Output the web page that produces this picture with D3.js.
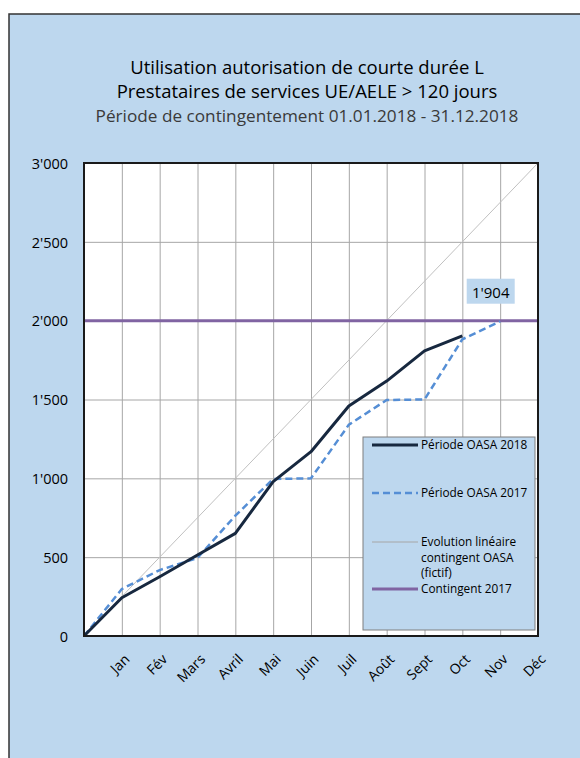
<!DOCTYPE html>
<html>
<head>
<meta charset="utf-8">
<script src="https://cdn.jsdelivr.net/npm/d3@7"></script>
<style>
  body { margin: 0; background: #fff; }
  svg { display: block; font-family: 'Open Sans', sans-serif; }
  .grid line { stroke: #a6a6a6; stroke-width: 1; }
  .grid path { display: none; }
</style>
</head>
<body>
<svg width="580" height="758"></svg>
<script>
// data
const months = ['Jan', 'Fév', 'Mars', 'Avril', 'Mai', 'Juin', 'Juil', 'Août', 'Sept', 'Oct', 'Nov', 'Déc'];
const period2018 = [0, 243, 376, 514, 651, 979, 1169, 1459, 1617, 1808, 1904];
const period2017 = [0, 298, 418, 495, 763, 996, 1000, 1340, 1497, 1500, 1882, 1995];
const linearEvolution = [0, 3000];
const linearIdx = [0, 12];
const contingent2017 = 2000;
const yTicks = [0, 500, 1000, 1500, 2000, 2500, 3000];
const lastLabel = "1'904";

const svg = d3.select('svg');

// panel background
svg.append('rect')
  .attr('x', 9).attr('y', 14)
  .attr('width', 600).attr('height', 760)
  .attr('fill', '#bdd7ee')
  .attr('stroke', '#333').attr('stroke-width', 1.5);

// titles
const titles = [
  { t: 'Utilisation autorisation de courte durée L', y: 74, size: 18.5, fill: '#000' },
  { t: 'Prestataires de services UE/AELE > 120 jours', y: 98, size: 18.5, fill: '#000' },
  { t: 'Période de contingentement 01.01.2018 - 31.12.2018', y: 122, size: 17.2, fill: '#3a3a3a' }
];
svg.selectAll('.title').data(titles).enter().append('text')
  .attr('class', 'title')
  .attr('x', 307).attr('y', d => d.y)
  .attr('text-anchor', 'middle')
  .attr('font-size', d => d.size)
  .attr('fill', d => d.fill)
  .text(d => d.t);

const pLeft = 84, pRight = 538, pTop = 163, pBottom = 636;

const xScale = d3.scaleLinear().domain([0, 12]).range([pLeft, pRight]);
const yScale = d3.scaleLinear().domain([0, 3000]).range([pBottom, pTop]);

// plot area
svg.append('rect')
  .attr('x', pLeft).attr('y', pTop)
  .attr('width', pRight - pLeft).attr('height', pBottom - pTop)
  .attr('fill', '#fff');

// gridlines
svg.append('g')
  .attr('class', 'grid')
  .attr('transform', `translate(${pLeft},0)`)
  .call(d3.axisLeft(yScale).tickValues(yTicks).tickSize(-(pRight - pLeft)).tickFormat(''));

svg.append('g')
  .attr('class', 'grid')
  .attr('transform', `translate(0,${pBottom})`)
  .call(d3.axisBottom(xScale).tickValues(d3.range(1, 13)).tickSize(-(pBottom - pTop)).tickFormat(''));

// y axis labels
const yAxis = svg.append('g')
  .attr('transform', `translate(${pLeft},0)`)
  .call(d3.axisLeft(yScale).tickValues(yTicks).tickSize(0).tickPadding(16)
    .tickFormat(d => d3.format(',')(d).replace(',', "'")));
yAxis.select('.domain').remove();
yAxis.attr('font-family', null).attr('font-size', 14.5);
yAxis.selectAll('text').attr('fill', '#000').attr('dy', '0.36em');

// x axis labels
const xAxis = svg.append('g')
  .attr('transform', `translate(0,${pBottom})`)
  .call(d3.axisBottom(xScale).tickValues(d3.range(1, 13)).tickSize(0)
    .tickFormat(d => months[d - 1]));
xAxis.select('.domain').remove();
xAxis.attr('font-family', null).attr('font-size', 14);
xAxis.selectAll('text')
  .attr('fill', '#000')
  .attr('text-anchor', 'end')
  .attr('dy', null)
  .attr('transform', 'translate(6,22) rotate(-45)');

const line = d3.line().x(d => xScale(d[0])).y(d => yScale(d[1]));

// linear evolution
svg.append('path')
  .datum(linearIdx.map((x, i) => [x, linearEvolution[i]]))
  .attr('d', line)
  .attr('fill', 'none').attr('stroke', '#c0c0c0').attr('stroke-width', 1);

// contingent
svg.append('line')
  .attr('x1', xScale(0)).attr('x2', xScale(12))
  .attr('y1', yScale(contingent2017)).attr('y2', yScale(contingent2017))
  .attr('stroke', '#8064a2').attr('stroke-width', 3);

// 2017
svg.append('path')
  .datum(period2017.map((v, i) => [i, v]))
  .attr('d', line)
  .attr('fill', 'none').attr('stroke', '#558ed5')
  .attr('stroke-width', 2.5).attr('stroke-dasharray', '7,4');

// 2018
svg.append('path')
  .datum(period2018.map((v, i) => [i, v]))
  .attr('d', line)
  .attr('fill', 'none').attr('stroke', '#17283f')
  .attr('stroke-width', 3).attr('stroke-linejoin', 'round');

// plot border
svg.append('rect')
  .attr('x', pLeft).attr('y', pTop)
  .attr('width', pRight - pLeft).attr('height', pBottom - pTop)
  .attr('fill', 'none').attr('stroke', '#1a1a1a').attr('stroke-width', 2);

// data label
const lx = xScale(10.75), ly = yScale(2190);
svg.append('rect')
  .attr('x', lx - 24).attr('y', ly - 12)
  .attr('width', 48).attr('height', 25)
  .attr('fill', '#bdd7ee');
svg.append('text')
  .attr('x', lx).attr('y', ly + 7)
  .attr('text-anchor', 'middle')
  .attr('font-size', 15)
  .text(lastLabel);

// legend
const legend = svg.append('g');
legend.append('rect')
  .attr('x', 363).attr('y', 437)
  .attr('width', 172).attr('height', 193)
  .attr('fill', '#bdd7ee').attr('stroke', '#7f7f7f').attr('stroke-width', 1);

const legendItems = [
  { lines: ['Période OASA 2018'], y: 445, stroke: '#17283f', w: 3, dash: null },
  { lines: ['Période OASA 2017'], y: 493, stroke: '#558ed5', w: 2.5, dash: '7,4' },
  { lines: ['Evolution linéaire', 'contingent OASA', '(fictif)'], y: 542, stroke: '#a6a6a6', w: 1, dash: null },
  { lines: ['Contingent 2017'], y: 589, stroke: '#8064a2', w: 3, dash: null }
];
const li = legend.selectAll('.li').data(legendItems).enter().append('g').attr('class', 'li');
li.append('line')
  .attr('x1', 372).attr('x2', 418)
  .attr('y1', d => d.y).attr('y2', d => d.y)
  .attr('stroke', d => d.stroke).attr('stroke-width', d => d.w)
  .attr('stroke-dasharray', d => d.dash);
li.append('text')
  .attr('x', 421).attr('y', d => d.y + 4)
  .attr('font-size', 11.8)
  .attr('fill', '#000')
  .selectAll('tspan').data(d => d.lines).enter().append('tspan')
  .attr('x', 421).attr('dy', (d, i) => i === 0 ? 0 : 15.5)
  .text(d => d);
</script>
</body>
</html>
